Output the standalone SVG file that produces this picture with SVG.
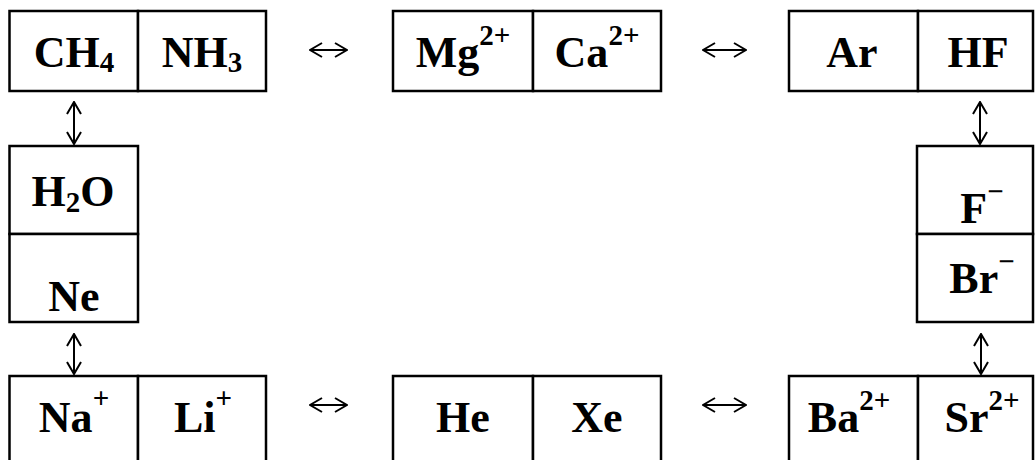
<svg xmlns="http://www.w3.org/2000/svg" width="1035" height="460" viewBox="0 0 1035 460">
<style>
.cell{fill:#fff;stroke:#000;stroke-width:2.5}
.lbl{font-family:"Liberation Serif","Times New Roman",serif;font-weight:bold;font-size:44px;fill:#000;text-anchor:middle}
.sm{font-size:29px}
.conn{stroke:#000;stroke-width:2;fill:none;marker-start:url(#ah);marker-end:url(#ah)}
</style>
<defs>
<marker id="ah" viewBox="0 0 14 16" refX="13" refY="8" markerWidth="14" markerHeight="16" markerUnits="userSpaceOnUse" orient="auto-start-reverse">
<path d="M1,1 L13,8 L1,15" fill="none" stroke="#000" stroke-width="2"/>
</marker>
</defs>
<rect width="1035" height="460" fill="#fff"/>
<g id="ch4"><rect class="cell" x="9.5" y="11" width="128.5" height="80"/><text class="lbl" x="74" y="67">CH<tspan class="sm" dy="5">4</tspan></text></g>
<g id="nh3"><rect class="cell" x="138" y="11" width="128" height="80"/><text class="lbl" x="202" y="67">NH<tspan class="sm" dy="5">3</tspan></text></g>
<g id="mg"><rect class="cell" x="393" y="11" width="140" height="80"/><text class="lbl" x="463" y="67">Mg<tspan class="sm" dy="-22">2+</tspan></text></g>
<g id="ca"><rect class="cell" x="533" y="11" width="128" height="80"/><text class="lbl" x="597" y="67">Ca<tspan class="sm" dy="-22">2+</tspan></text></g>
<g id="ar"><rect class="cell" x="789" y="11" width="129" height="80"/><text class="lbl" x="852" y="67">Ar</text></g>
<g id="hf"><rect class="cell" x="918" y="11" width="115" height="80"/><text class="lbl" x="978" y="67">HF</text></g>
<g id="h2o"><rect class="cell" x="9.5" y="146" width="128.5" height="88"/><text class="lbl" x="73" y="206">H<tspan class="sm" dy="6">2</tspan><tspan dy="-6">O</tspan></text></g>
<g id="ne"><rect class="cell" x="9.5" y="234" width="128.5" height="88"/><text class="lbl" x="74" y="311">Ne</text></g>
<g id="f"><rect class="cell" x="917" y="146" width="116" height="88"/><text class="lbl" x="982" y="223">F<tspan class="sm" dy="-22">−</tspan></text></g>
<g id="br"><rect class="cell" x="917" y="234" width="116" height="88"/><text class="lbl" x="982" y="293">Br<tspan class="sm" dy="-22">−</tspan></text></g>
<g id="na"><rect class="cell" x="9.5" y="376" width="128.5" height="90"/><text class="lbl" x="74" y="432">Na<tspan class="sm" dy="-24">+</tspan></text></g>
<g id="li"><rect class="cell" x="138" y="376" width="128" height="90"/><text class="lbl" x="203" y="432">Li<tspan class="sm" dy="-24">+</tspan></text></g>
<g id="he"><rect class="cell" x="393" y="376" width="140" height="90"/><text class="lbl" x="463" y="432">He</text></g>
<g id="xe"><rect class="cell" x="533" y="376" width="128" height="90"/><text class="lbl" x="597" y="432">Xe</text></g>
<g id="ba"><rect class="cell" x="789" y="376" width="129" height="90"/><text class="lbl" x="849" y="432">Ba<tspan class="sm" dy="-22">2+</tspan></text></g>
<g id="sr"><rect class="cell" x="918" y="376" width="115" height="90"/><text class="lbl" x="982" y="432">Sr<tspan class="sm" dy="-22">2+</tspan></text></g>
<g id="connectors">
<line class="conn" x1="310" y1="50" x2="347" y2="50"/>
<line class="conn" x1="703" y1="50" x2="746" y2="50"/>
<line class="conn" x1="310" y1="405" x2="347" y2="405"/>
<line class="conn" x1="703" y1="405" x2="746" y2="405"/>
<line class="conn" x1="74" y1="102" x2="74" y2="144"/>
<line class="conn" x1="74" y1="334" x2="74" y2="374"/>
<line class="conn" x1="980" y1="102" x2="980" y2="144"/>
<line class="conn" x1="981" y1="334" x2="981" y2="374"/>
</g>
</svg>
